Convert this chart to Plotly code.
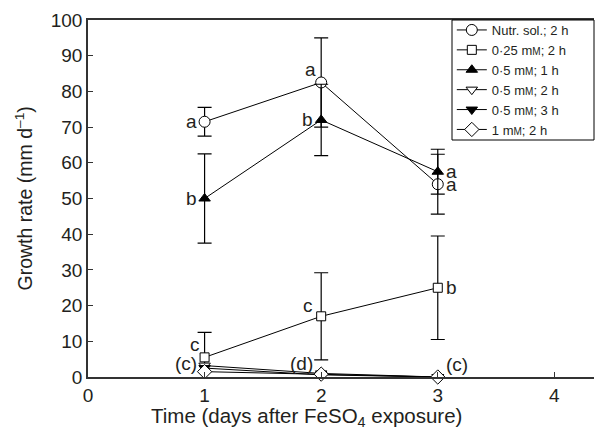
import plotly.graph_objects as go

days = [1, 2, 3]

nutr_vals = [71.5, 82.5, 54.0]
nutr_err = [4.0, 12.5, 8.4]

mm025_vals = [5.5, 17.0, 25.0]
mm025_err = [7.0, 12.2, 14.5]

mm05_1h_vals = [50.0, 72.0, 57.5]
mm05_1h_err = [12.5, 10.0, 6.3]

mm05_2h_vals = [3.2, 1.0, 0.0]
mm05_3h_vals = [2.5, 0.6, 0.0]
mm1_2h_vals = [1.5, 0.8, 0.0]

MM = "m<span style='font-size:10px'>M</span>"
series_names = [
    "Nutr. sol.; 2 h",
    "0·25 " + MM + "; 2 h",
    "0·5 " + MM + "; 1 h",
    "0·5 " + MM + "; 2 h",
    "0·5 " + MM + "; 3 h",
    "1 " + MM + "; 2 h",
]

x_title = "Time (days after FeSO<sub>4</sub> exposure)"
y_title = "Growth rate (mm d<sup>–1</sup>)"

# letter labels: (text, x, y)
letters_left = [
    ("a", 1, nutr_vals[0]),
    ("b", 1, mm05_1h_vals[0]),
    ("b", 2, mm05_1h_vals[1]),
    ("c", 2, 20.0),
    ("(c)", 1, 3.9),
    ("(d)", 2, 3.9),
]
letters_above_left = [
    ("a", 2, nutr_vals[1]),
    ("c", 1, mm025_vals[0]),
]
letters_right = [
    ("a", 3, mm05_1h_vals[2]),
    ("a", 3, nutr_vals[2]),
    ("b", 3, mm025_vals[2]),
    ("(c)", 3, 3.4),
]

FONT = "Liberation Sans, Arial, sans-serif"
TXT = "#231f20"

fig = go.Figure()

def add(vals, err, name, symbol, fill, size):
    fig.add_trace(go.Scatter(
        x=days, y=vals, name=name, mode="lines+markers",
        line=dict(color="black", width=1),
        marker=dict(symbol=symbol, size=size, color=fill,
                    line=dict(color="black", width=1)),
        error_y=(dict(type="data", array=err, visible=True, color="black",
                      thickness=1.2, width=7) if err else None),
        cliponaxis=False,
    ))

add(nutr_vals, nutr_err, series_names[0], "circle", "white", 11)
add(mm025_vals, mm025_err, series_names[1], "square", "white", 9)
add(mm05_1h_vals, mm05_1h_err, series_names[2], "triangle-up", "black", 10)
add(mm05_2h_vals, None, series_names[3], "triangle-down", "white", 10)
add(mm05_3h_vals, None, series_names[4], "triangle-down", "black", 10)
add(mm1_2h_vals, None, series_names[5], "diamond", "white", 11)

ann = []
for t, x, y in letters_left:
    ann.append(dict(x=x, y=y, text=t, xanchor="right", yanchor="middle",
                    xshift=-6, showarrow=False))
for t, x, y in letters_above_left:
    ann.append(dict(x=x, y=y, text=t, xanchor="right", yanchor="bottom",
                    xshift=-3, yshift=0, showarrow=False))
for t, x, y in letters_right:
    ann.append(dict(x=x, y=y, text=t, xanchor="left", yanchor="middle",
                    xshift=6, showarrow=False))
for a in ann:
    a["font"] = dict(family=FONT, size=19, color=TXT)
    a["xref"] = "x"
    a["yref"] = "y"

# axis titles as paper annotations (placed like the original)
ann.append(dict(xref="paper", yref="paper", x=(306 - 88) / 506,
                y=-(417 - 377) / 357, text=x_title, showarrow=False,
                xanchor="center", yanchor="middle",
                font=dict(family=FONT, size=20.5, color=TXT)))
ann.append(dict(xref="paper", yref="paper", x=-(88 - 23) / 506,
                y=0.5, text=y_title, showarrow=False, textangle=-90,
                xanchor="center", yanchor="middle",
                font=dict(family=FONT, size=19.5, color=TXT)))

# legend frame drawn as a shape so the rows can sit tight like the original
legend_box = dict(type="rect", xref="paper", yref="paper",
                  x0=(452 - 88) / 506, x1=1.0, y0=1 - (140 - 20) / 357, y1=1.0,
                  line=dict(color="black", width=1), fillcolor="white",
                  layer="above")

fig.update_layout(
    width=595, height=434,
    margin=dict(l=88, r=1, t=20, b=57),
    paper_bgcolor="white", plot_bgcolor="white",
    font=dict(family=FONT, size=19, color=TXT),
    showlegend=True,
    legend=dict(x=0.719, y=1.014, xanchor="left", yanchor="top",
                bgcolor="rgba(0,0,0,0)", borderwidth=0,
                font=dict(family=FONT, size=13, color=TXT),
                tracegroupgap=0, itemwidth=30),
    shapes=[legend_box],
    annotations=ann,
    xaxis=dict(range=[0, 4.34], tickvals=[0, 1, 2, 3, 4], ticks="inside",
               ticklen=5, tickcolor="#333", showline=True, linecolor="#333",
               linewidth=1.5, mirror=True, showgrid=False, zeroline=False,
               tickfont=dict(size=19), automargin=False),
    yaxis=dict(range=[0, 100], dtick=10, ticks="inside", ticklen=5,
               tickcolor="#333", showline=True, linecolor="#333",
               linewidth=1.5, showgrid=False, zeroline=False,
               tickfont=dict(size=19), automargin=False),
)

fig.write_html(
    "out.html",
    config={"displayModeBar": False},
    post_script="document.body.style.margin='0';document.body.style.overflow='hidden';",
)
